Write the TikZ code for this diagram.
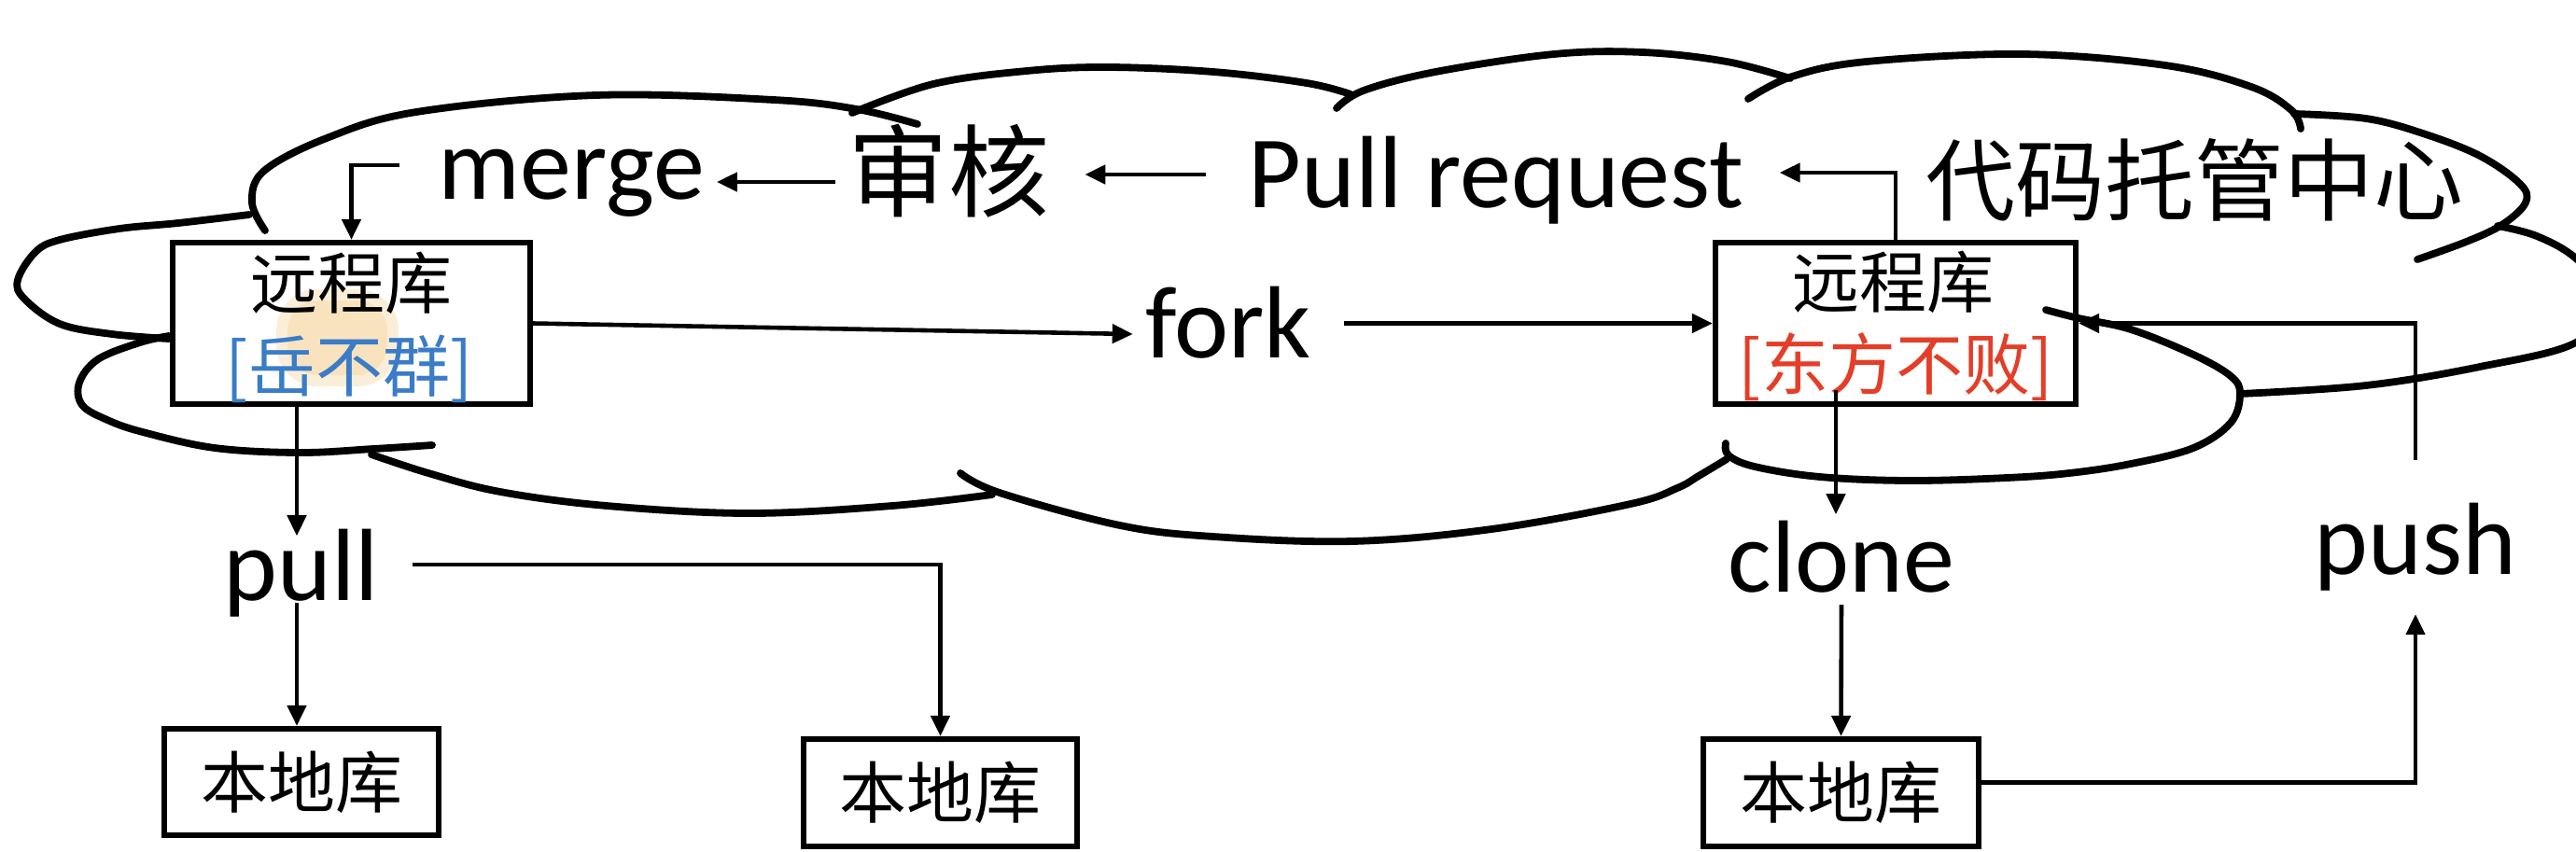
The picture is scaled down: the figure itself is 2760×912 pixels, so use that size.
\documentclass[tikz,border=0pt]{standalone}
\usepackage{fontspec}
\setmainfont{Carlito}
\newfontfamily\cjk{Noto Sans CJK SC}
\usetikzlibrary{arrows.meta,calc}
\definecolor{yblue}{RGB}{58,124,200}
\definecolor{dred}{RGB}{228,62,40}
\definecolor{blobc}{RGB}{247,214,160}
\begin{document}
\begin{tikzpicture}[x=0.5pt,y=-0.5pt,
  cloudline/.style={line width=3.9pt, line cap=round, line join=round},
  conn/.style={line width=2.3pt, -{Triangle[length=11pt,width=10pt]}},
  box/.style={draw, line width=3.1pt, fill=white, inner sep=0pt, font=\cjk\fontsize{36pt}{36pt}\selectfont},
  lab/.style={font=\fontsize{55pt}{60pt}\selectfont, inner xsep=6.5pt, inner ysep=0pt, anchor=base},
  cjklab/.style={font=\cjk\fontsize{#1}{#1}\selectfont, inner sep=0pt}]
\useasboundingbox (0,0) rectangle (2760,912);
\fill[white] (0,0) rectangle (2760,912);
\clip (0,0) rectangle (2760,912);

% cloud lobes
\draw[cloudline] plot[smooth,tension=0.6] coordinates {(284,247) (270,217) (283,183) (350,148) (446,120) (638,102) (829,107) (918,117) (983,133)};
\draw[cloudline] plot[smooth,tension=0.6] coordinates {(913,121) (1000,90) (1100,76) (1187,72) (1300,77) (1400,89) (1447,101)};
\draw[cloudline] plot[smooth,tension=0.6] coordinates {(1432,116) (1461,97) (1538,77) (1665,58) (1760,56) (1850,66) (1918,84)};
\draw[cloudline] plot[smooth,tension=0.6] coordinates {(1873,106) (1920,82) (2000,66) (2167,58) (2320,70) (2412,93) (2455,118) (2465,138)};
\draw[cloudline] plot[smooth,tension=0.6] coordinates {(2458,122) (2535,127) (2596,143) (2657,167) (2700,197) (2706,217) (2682,240) (2645,258) (2590,278)};
\draw[cloudline] plot[smooth,tension=0.6] coordinates {(2676,242) (2718,253) (2760,277) (2795,320) (2760,367) (2657,393) (2535,413) (2400,422)};
\draw[cloudline] plot[smooth,tension=0.6] coordinates {(1850,492) (1820,510) (1797,523) (1747,540) (1598,567) (1449,580) (1300,575) (1200,563) (1071,528) (1029,507)};
\draw[cloudline] plot[smooth,tension=0.6] coordinates {(1063,530) (956,542) (803,550) (650,542) (536,527) (459,507) (398,487)};
\draw[cloudline] plot[smooth,tension=0.6] coordinates {(181,360) (150,367) (105,385) (85,410) (88,434) (115,450) (153,463) (230,480) (321,485) (400,481) (463,477)};
\draw[cloudline] plot[smooth,tension=0.6] coordinates {(181,363) (120,358) (64,347) (26,320) (19,300) (38,270) (64,257) (128,245) (191,239) (267,230)};

% boxes
\node[box, minimum width=191.5pt, minimum height=86.5pt] (lbox) at (376.5,346.5) {};
\node[box, minimum width=193pt, minimum height=86.5pt] (rbox) at (2031,346.5) {};
\node[box, minimum width=147pt, minimum height=57pt] (loc1) at (323,838) {本地库};
\node[box, minimum width=146.5pt, minimum height=57.5pt] (loc2) at (1007.5,849.5) {本地库};
\node[box, minimum width=147.5pt, minimum height=57.5pt] (loc3) at (1972.5,849.5) {本地库};

% cursor highlight
\fill[blobc, opacity=0.4, rounded corners=22pt] (296,310) rectangle (427,414);
\fill[blobc, opacity=0.45, rounded corners=16pt] (308,322) rectangle (415,402);

% box texts
\node[cjklab=36pt] (lt1) at (376,303) {远程库};
\node[cjklab=36pt, text=yblue] (lt2) at (374,395) {[岳不群]};
\node[cjklab=36pt] (rt1) at (2028,302) {远程库};
\node[cjklab=36pt, text=dred] (rt2) at (2031,393) {[东方不败]};

% cloud lobe that runs over the right box
\draw[cloudline] plot[smooth,tension=0.6] coordinates {(2192,332) (2227,341) (2283,353) (2350,380) (2390,403) (2400,422) (2390,453) (2350,480) (2283,497) (2217,507) (2150,512) (2046,515) (1950,511) (1880,500) (1852,488) (1849,475)};

% labels
\node[lab] (merge) at (612,213) {merge};
\node[cjklab=54pt, inner xsep=6.5pt] (shenhe) at (1016,183) {审核};
\node[lab] (pr) at (1603,222) {Pull request};
\node[cjklab=48pt] (hub) at (2351,193) {代码托管中心};
\node[lab] (fork) at (1316,383) {fork};
\node[lab] (pull) at (323,643) {pull};
\node[lab] (clone) at (1973,634) {clone};
\node[lab] (push) at (2588,615) {push};

% helper levels
\coordinate (h1) at (0,195);
\coordinate (h2) at (0,187);
\coordinate (h3) at (0,185);
\coordinate (h4) at (0,177);
\coordinate (h5) at (0,358);
\coordinate (h13) at (0,605);
\coordinate (c7) at ([xshift=-32pt,yshift=-35.75pt]rbox.center);
\coordinate (c11) at ([xshift=-29.25pt]lbox.south);

% connectors
\draw[conn] (shenhe.west |- h1) -- (merge.east |- h1);
\draw[conn, shorten <=16pt, shorten >=12.5pt] (pr.west |- h2) -- (shenhe.east |- h2);
\draw[conn, shorten >=12.5pt] (rbox.north) |- (pr.east |- h3);
\draw[conn, shorten <=14pt] (merge.west |- h4) -| (lbox.north);
\draw[conn] (lbox.east) -- (fork.west |- h5);
\draw[conn, shorten <=11pt] (fork.east |- rbox.west) -- (rbox.west);
\draw[conn, shorten >=3pt] (c7) -- (c7 |- clone.north);
\draw[conn, shorten <=6.5pt] (clone.south) -- (loc3.north);
\draw[conn, shorten >=12.5pt] ([yshift=5.5pt]loc3.east) -| (push.south);
\draw[conn, shorten <=22.5pt] (push.north) |- (rbox.east);
\draw[conn, shorten >=-4pt] (c11) -- (c11 |- pull.north);
\draw[conn, shorten <=-7.5pt] (c11 |- pull.south) -- (c11 |- loc1.north);
\draw[conn, shorten <=11.5pt] (pull.east |- h13) -| (loc2.north);
\end{tikzpicture}
\end{document}
